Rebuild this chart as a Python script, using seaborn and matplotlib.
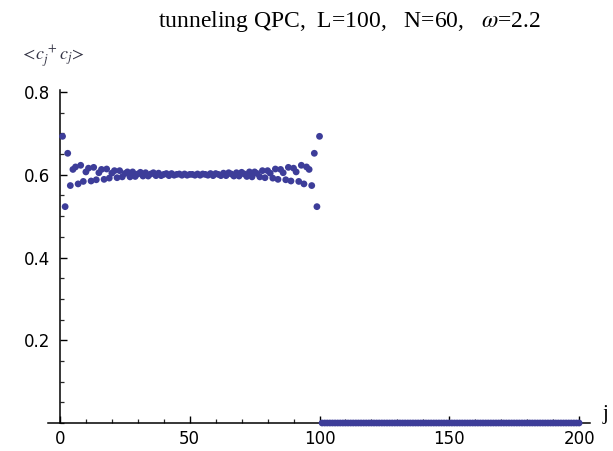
import matplotlib
matplotlib.use("Agg")
import matplotlib.pyplot as plt
import seaborn as sns
import pandas as pd
from matplotlib.ticker import MultipleLocator, FixedLocator

# ---- data ----
title_text = "tunneling QPC,  L=100,   N=60,   $\\omega$=2.2"
ylabel_text = r"$<\!c_j^{\,+}c_j\!>$"
xlabel_text = "j"

j_left = list(range(1, 101))
n_left = [
    0.693, 0.523, 0.652, 0.574, 0.613, 0.619, 0.578, 0.623, 0.584, 0.607,
    0.616, 0.585, 0.618, 0.588, 0.605, 0.613, 0.589, 0.614, 0.592, 0.604,
    0.610, 0.593, 0.610, 0.595, 0.603, 0.607, 0.595, 0.607, 0.596, 0.602,
    0.606, 0.597, 0.605, 0.597, 0.602, 0.605, 0.598, 0.604, 0.598, 0.601,
    0.603, 0.598, 0.603, 0.599, 0.601, 0.602, 0.599, 0.602, 0.599, 0.601,
    0.601, 0.599, 0.602, 0.599, 0.602, 0.601, 0.599, 0.603, 0.598, 0.603,
    0.601, 0.598, 0.604, 0.598, 0.605, 0.602, 0.597, 0.605, 0.597, 0.606,
    0.602, 0.596, 0.607, 0.595, 0.607, 0.603, 0.595, 0.610, 0.593, 0.610,
    0.604, 0.592, 0.614, 0.589, 0.613, 0.605, 0.588, 0.618, 0.585, 0.616,
    0.607, 0.584, 0.623, 0.578, 0.619, 0.613, 0.574, 0.652, 0.523, 0.693,
]

j_right = list(range(101, 201))
n_right = [
    0.0, 0.0, 0.0, 0.0, 0.0, 0.0, 0.0, 0.0, 0.0, 0.0, 0.0, 0.0, 0.0, 0.0, 0.0, 0.0, 0.0, 0.0, 0.0, 0.0,
    0.0, 0.0, 0.0, 0.0, 0.0, 0.0, 0.0, 0.0, 0.0, 0.0, 0.0, 0.0, 0.0, 0.0, 0.0, 0.0, 0.0, 0.0, 0.0, 0.0,
    0.0, 0.0, 0.0, 0.0, 0.0, 0.0, 0.0, 0.0, 0.0, 0.0, 0.0, 0.0, 0.0, 0.0, 0.0, 0.0, 0.0, 0.0, 0.0, 0.0,
    0.0, 0.0, 0.0, 0.0, 0.0, 0.0, 0.0, 0.0, 0.0, 0.0, 0.0, 0.0, 0.0, 0.0, 0.0, 0.0, 0.0, 0.0, 0.0, 0.0,
    0.0, 0.0, 0.0, 0.0, 0.0, 0.0, 0.0, 0.0, 0.0, 0.0, 0.0, 0.0, 0.0, 0.0, 0.0, 0.0, 0.0, 0.0, 0.0, 0.0,
]

x_major = [0, 50, 100, 150, 200]
y_major = [0.2, 0.4, 0.6, 0.8]
y_major_labels = ["0.2", "0.4", "0.6", "0.8"]

df = pd.DataFrame({"j": j_left + j_right, "n": n_left + n_right})

# ---- styling ----
sns.set_style("ticks")
plt.rcParams["mathtext.fontset"] = "stix"
plt.rcParams["font.family"] = ["DejaVu Sans"]

W, H = 613, 451
fig = plt.figure(figsize=(W / 100, H / 100), dpi=100)
ax = fig.add_axes([48 / W, 28 / H, (590 - 48) / W, (423 - 90) / H])

point_color = "#3d3d99"
sns.scatterplot(data=df, x="j", y="n", ax=ax, color=point_color, s=24,
                edgecolor="none", linewidth=0, legend=False, zorder=5)
for coll in ax.collections:
    coll.set_clip_on(False)

ax.set_xlim(-4.6, 204.2)
ax.set_ylim(0, 0.805)

for side in ["top", "right"]:
    ax.spines[side].set_visible(False)
ax.spines["left"].set_position(("data", 0))
ax.spines["bottom"].set_position(("data", 0))
for side in ["left", "bottom"]:
    ax.spines[side].set_linewidth(1.1)
    ax.spines[side].set_color("black")

ax.xaxis.set_major_locator(FixedLocator(x_major))
ax.xaxis.set_minor_locator(MultipleLocator(10))
ax.yaxis.set_major_locator(FixedLocator(y_major))
ax.set_yticklabels(y_major_labels)
ax.yaxis.set_minor_locator(MultipleLocator(0.05))

ax.tick_params(axis="both", which="major", direction="in", length=5, width=1.0,
               labelsize=12, colors="black")
ax.tick_params(axis="both", which="minor", direction="in", length=2.8, width=0.9)
ax.tick_params(axis="x", which="major", pad=5)
ax.tick_params(axis="y", which="major", pad=7)
ax.set_xlabel("")
ax.set_ylabel("")

fig.text(350 / W, 1 - 21 / H, title_text, ha="center", va="center",
         fontsize=17, family="Liberation Serif", color="black")
fig.text(20 / W, 1 - 57 / H, ylabel_text, ha="left", va="center",
         fontsize=13, color="#333344")
fig.text(606 / W, 1 - 414 / H, xlabel_text, ha="center", va="center",
         fontsize=15, family="Liberation Serif", color="black")

fig.savefig("out.png", dpi=100)
